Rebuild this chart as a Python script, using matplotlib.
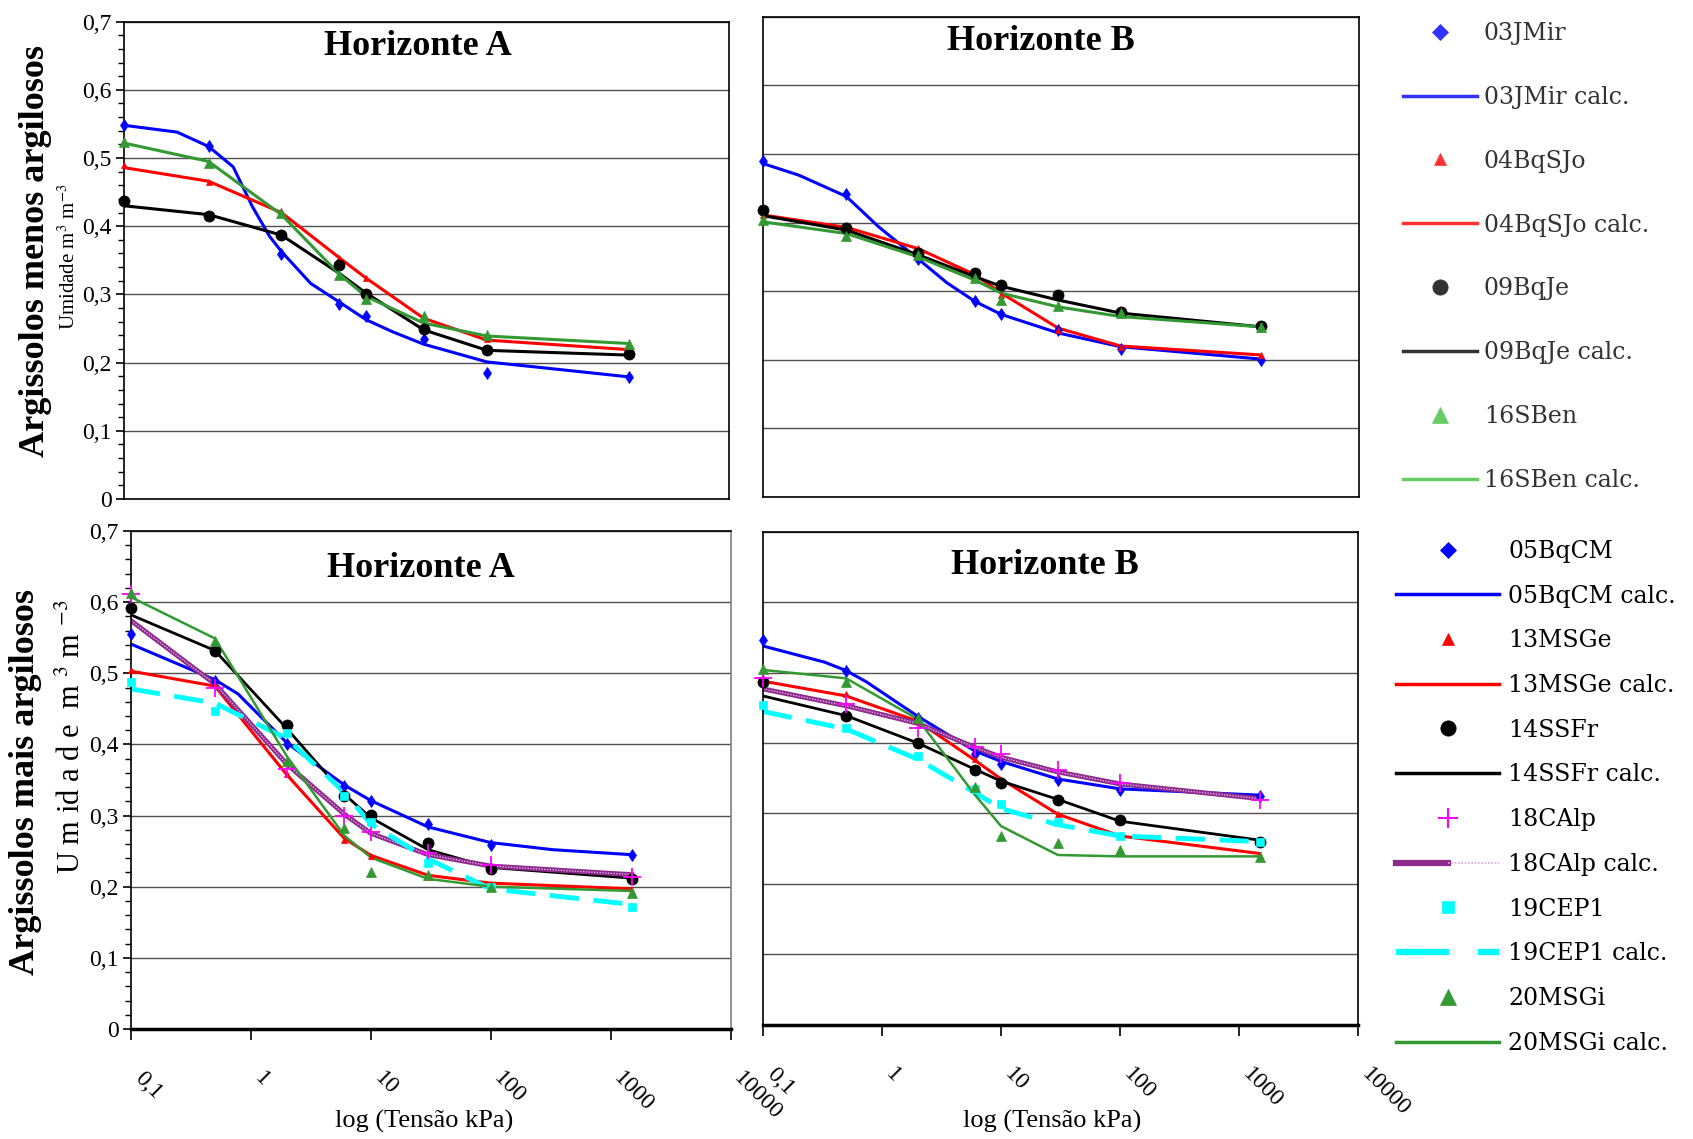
import numpy as np
import matplotlib
matplotlib.use('Agg')
import matplotlib.pyplot as plt
from matplotlib.lines import Line2D
from matplotlib.legend_handler import HandlerTuple
from matplotlib.ticker import MultipleLocator, NullLocator
from matplotlib.transforms import ScaledTranslation

plt.rcParams['font.family'] = ['Liberation Serif', 'DejaVu Serif']
plt.rcParams['mathtext.fontset'] = 'stix'

# tensões medidas (kPa)
tensao = [0.1, 0.5, 2, 6, 10, 30, 100, 1500]

x_ticks = [0.1, 1, 10, 100, 1000, 10000]
x_tick_labels = ['0,1', '1', '10', '100', '1000', '10000']
y_ticks = [0, 0.1, 0.2, 0.3, 0.4, 0.5, 0.6, 0.7]
y_tick_labels = ['0', '0,1', '0,2', '0,3', '0,4', '0,5', '0,6', '0,7']

# ---------------- argissolos menos argilosos ----------------
menos = ['03JMir', '04BqSJo', '09BqJe', '16SBen']

# horizonte A - observado
mA_03JMir = [0.549, 0.517, 0.359, 0.286, 0.268, 0.234, 0.185, 0.179]
mA_04BqSJo = [0.490, 0.465, 0.423, 0.354, 0.324, 0.268, 0.234, 0.219]
mA_09BqJe = [0.437, 0.415, 0.387, 0.343, 0.300, 0.250, 0.219, 0.213]
mA_16SBen = [0.524, 0.492, 0.419, 0.328, 0.293, 0.268, 0.240, 0.227]
# horizonte A - calculado
mA_03JMir_cx = [0.1, 0.275, 0.5, 0.8, 1.15, 1.6, 2, 3.5, 6, 10, 16.7, 30, 100, 240, 1500]
mA_03JMir_c = [0.548, 0.538, 0.517, 0.487, 0.429, 0.385, 0.363, 0.316, 0.289, 0.263, 0.245,
               0.227, 0.201, 0.194, 0.179]
mA_04BqSJo_c = [0.486, 0.466, 0.420, 0.354, 0.324, 0.265, 0.233, 0.219]
mA_09BqJe_c = [0.430, 0.417, 0.387, 0.331, 0.302, 0.248, 0.218, 0.211]
mA_16SBen_c = [0.522, 0.495, 0.417, 0.330, 0.297, 0.258, 0.239, 0.228]

# horizonte B - observado
mB_03JMir = [0.489, 0.442, 0.347, 0.285, 0.267, 0.244, 0.216, 0.200]
mB_04BqSJo = [0.411, 0.394, 0.363, 0.324, 0.295, 0.244, 0.219, 0.207]
mB_09BqJe = [0.418, 0.392, 0.355, 0.326, 0.309, 0.295, 0.270, 0.249]
mB_16SBen = [0.404, 0.380, 0.353, 0.319, 0.287, 0.279, 0.268, 0.248]
# horizonte B - calculado
mB_03JMir_cx = [0.1, 0.2, 0.5, 0.93, 2, 3.5, 6, 10, 30, 100, 1500]
mB_03JMir_c = [0.486, 0.469, 0.438, 0.394, 0.347, 0.312, 0.285, 0.266, 0.239, 0.219, 0.201]
mB_04BqSJo_c = [0.411, 0.393, 0.362, 0.324, 0.297, 0.246, 0.220, 0.207]
mB_09BqJe_c = [0.410, 0.389, 0.353, 0.321, 0.307, 0.287, 0.268, 0.248]
mB_16SBen_c = [0.401, 0.384, 0.350, 0.316, 0.297, 0.277, 0.263, 0.248]

# ---------------- argissolos mais argilosos ----------------
mais = ['05BqCM', '13MSGe', '14SSFr', '18CAlp', '19CEP1', '20MSGi']

# horizonte A - observado
pA_05BqCM = [0.555, 0.489, 0.400, 0.341, 0.321, 0.288, 0.258, 0.244]
pA_13MSGe = [0.504, 0.484, 0.358, 0.266, 0.243, 0.214, 0.204, 0.194]
pA_14SSFr = [0.592, 0.532, 0.427, 0.327, 0.301, 0.262, 0.225, 0.211]
pA_18CAlp = [0.611, 0.480, 0.365, 0.300, 0.277, 0.247, 0.230, 0.214]
pA_19CEP1 = [0.488, 0.447, 0.416, 0.327, 0.291, 0.233, 0.200, 0.172]
pA_20MSGi = [0.613, 0.546, 0.376, 0.283, 0.220, 0.216, 0.200, 0.191]
# horizonte A - calculado
pA_05BqCM_cx = [0.1, 0.5, 0.78, 2, 6, 10, 30, 100, 330, 1500]
pA_05BqCM_c = [0.541, 0.491, 0.471, 0.402, 0.343, 0.321, 0.284, 0.262, 0.252, 0.245]
pA_13MSGe_c = [0.503, 0.482, 0.357, 0.268, 0.244, 0.216, 0.205, 0.197]
pA_14SSFr_c = [0.582, 0.532, 0.422, 0.330, 0.297, 0.252, 0.227, 0.212]
pA_18CAlp_c = [0.574, 0.485, 0.372, 0.302, 0.275, 0.245, 0.229, 0.217]
pA_19CEP1_c = [0.478, 0.458, 0.408, 0.333, 0.288, 0.239, 0.197, 0.175]
pA_20MSGi_c = [0.607, 0.549, 0.383, 0.272, 0.241, 0.211, 0.200, 0.194]

# horizonte B - observado
pB_05BqCM = [0.547, 0.502, 0.436, 0.385, 0.371, 0.348, 0.334, 0.325]
pB_13MSGe = [0.492, 0.470, 0.431, 0.377, 0.347, 0.299, 0.268, 0.241]
pB_14SSFr = [0.487, 0.439, 0.400, 0.362, 0.344, 0.319, 0.291, 0.260]
pB_18CAlp = [0.492, 0.456, 0.422, 0.395, 0.384, 0.362, 0.344, 0.319]
pB_19CEP1 = [0.454, 0.422, 0.381, 0.335, 0.313, 0.288, 0.268, 0.260]
pB_20MSGi = [0.506, 0.487, 0.436, 0.337, 0.268, 0.258, 0.248, 0.238]
# horizonte B - calculado
pB_05BqCM_cx = [0.1, 0.33, 0.5, 0.74, 2, 6, 10, 30, 100, 1500]
pB_05BqCM_c = [0.538, 0.515, 0.503, 0.487, 0.438, 0.389, 0.374, 0.349, 0.335, 0.326]
pB_13MSGe_c = [0.488, 0.467, 0.431, 0.376, 0.349, 0.299, 0.268, 0.243]
pB_14SSFr_c = [0.467, 0.439, 0.400, 0.363, 0.346, 0.320, 0.289, 0.262]
pB_18CAlp_c = [0.477, 0.453, 0.428, 0.394, 0.380, 0.359, 0.342, 0.321]
pB_19CEP1_c = [0.445, 0.420, 0.377, 0.330, 0.307, 0.284, 0.268, 0.260]
pB_20MSGi_c = [0.504, 0.492, 0.434, 0.327, 0.282, 0.241, 0.239, 0.239]

# estilo de cada amostra: cor, marcador, tamanho no gráfico e na legenda, largura, tracejado
estilo = {
    '03JMir': dict(cor='#0000ff', mk='d', ms=6, mk_leg='D', ms_leg=8, lw=2.2, ls='-'),
    '04BqSJo': dict(cor='#ff0000', mk='^', ms=5, mk_leg='^', ms_leg=8, lw=2.2, ls='-'),
    '09BqJe': dict(cor='#000000', mk='o', ms=8, mk_leg='o', ms_leg=11, lw=2.2, ls='-'),
    '16SBen': dict(cor='#339933', mk='^', ms=7, mk_leg='^', ms_leg=11, lw=2.2, ls='-'),
    '05BqCM': dict(cor='#0000ff', mk='d', ms=6, mk_leg='D', ms_leg=8, lw=2.2, ls='-'),
    '13MSGe': dict(cor='#ff0000', mk='^', ms=5, mk_leg='^', ms_leg=8, lw=2.2, ls='-'),
    '14SSFr': dict(cor='#000000', mk='o', ms=8, mk_leg='o', ms_leg=11, lw=2.0, ls='-'),
    '18CAlp': dict(cor='#ff00ff', mk='+', ms=13, mk_leg='+', ms_leg=15, lw=3.5, ls='-'),
    '19CEP1': dict(cor='#00ffff', mk='s', ms=6, mk_leg='s', ms_leg=9, lw=3.5, ls=(0, (6, 3))),
    '20MSGi': dict(cor='#339933', mk='^', ms=7, mk_leg='^', ms_leg=11, lw=1.8, ls='-'),
}
# cores mais claras usadas na legenda do primeiro grupo
cor_leg_menos = {'03JMir': '#3333ff', '04BqSJo': '#ff3333', '09BqJe': '#333333', '16SBen': '#66cc66'}

fig = plt.figure(figsize=(16.93, 11.39), dpi=100)

ax_mA = fig.add_axes([0.0732, 0.5619, 0.3574, 0.4191])
ax_mB = fig.add_axes([0.4507, 0.5637, 0.3520, 0.4216])
ax_pA = fig.add_axes([0.0774, 0.0966, 0.3541, 0.4372])
ax_pB = fig.add_axes([0.4507, 0.1005, 0.3514, 0.4324])


def desenha(ax, nomes, obs, calc, calc_x):
    for nome in nomes:
        st = estilo[nome]
        cx = calc_x.get(nome, tensao)
        if nome == '18CAlp':
            # linha calculada hachurada (roxo com pontilhado claro)
            ax.plot(cx, calc[nome], color='#8e2a8e', lw=st['lw'], zorder=2)
            ax.plot(cx, calc[nome], color='#d9a6d9', lw=1.0, ls=(0, (1, 1)), zorder=2)
        else:
            ax.plot(cx, calc[nome], color=st['cor'], lw=st['lw'], ls=st['ls'], zorder=2)
        mk_lw = 1.3 if st['mk'] == '+' else 0.5
        ax.plot(tensao, obs[nome], ls='none', marker=st['mk'], ms=st['ms'],
                color=st['cor'], mec=st['cor'], mew=mk_lw, zorder=3, clip_on=False)


def formata(ax, titulo, tx, ty, esquerda, baixo):
    ax.set_xscale('log')
    ax.set_xlim(0.1, 10000)
    ax.set_ylim(0, 0.7)
    ax.xaxis.set_minor_locator(NullLocator())
    ax.set_yticks(y_ticks)
    ax.yaxis.grid(True, color='#505050', lw=1.0)
    ax.set_axisbelow(True)
    for s in ax.spines.values():
        s.set_color('black')
        s.set_linewidth(1.2)
    if esquerda:
        ax.set_yticklabels(y_tick_labels, fontsize=17)
        ax.yaxis.set_minor_locator(MultipleLocator(0.02))
        ax.tick_params(axis='y', which='major', direction='out', length=6, width=1.2, pad=3)
        ax.tick_params(axis='y', which='minor', direction='out', length=4, width=1.0)
    else:
        ax.tick_params(axis='y', which='both', left=False, labelleft=False)
    if baixo:
        ax.set_xticks(x_ticks)
        ax.set_xticklabels(x_tick_labels, fontsize=17, rotation=-45, ha='left', va='top',
                           rotation_mode='anchor')
        ax.tick_params(axis='x', direction='out', length=8, width=1.2, pad=20)
        ax.spines['bottom'].set_linewidth(2.5)
        for lab in ax.get_xticklabels():
            lab.set_transform(lab.get_transform() + ScaledTranslation(0.14, 0, fig.dpi_scale_trans))
    else:
        ax.tick_params(axis='x', which='both', bottom=False, labelbottom=False)
    ax.text(tx, ty, titulo, transform=ax.transAxes, ha='center', va='baseline',
            fontsize=26, fontweight='bold')


desenha(ax_mA, menos,
        {'03JMir': mA_03JMir, '04BqSJo': mA_04BqSJo, '09BqJe': mA_09BqJe, '16SBen': mA_16SBen},
        {'03JMir': mA_03JMir_c, '04BqSJo': mA_04BqSJo_c, '09BqJe': mA_09BqJe_c, '16SBen': mA_16SBen_c},
        {'03JMir': mA_03JMir_cx})
desenha(ax_mB, menos,
        {'03JMir': mB_03JMir, '04BqSJo': mB_04BqSJo, '09BqJe': mB_09BqJe, '16SBen': mB_16SBen},
        {'03JMir': mB_03JMir_c, '04BqSJo': mB_04BqSJo_c, '09BqJe': mB_09BqJe_c, '16SBen': mB_16SBen_c},
        {'03JMir': mB_03JMir_cx})
desenha(ax_pA, mais,
        {'05BqCM': pA_05BqCM, '13MSGe': pA_13MSGe, '14SSFr': pA_14SSFr,
         '18CAlp': pA_18CAlp, '19CEP1': pA_19CEP1, '20MSGi': pA_20MSGi},
        {'05BqCM': pA_05BqCM_c, '13MSGe': pA_13MSGe_c, '14SSFr': pA_14SSFr_c,
         '18CAlp': pA_18CAlp_c, '19CEP1': pA_19CEP1_c, '20MSGi': pA_20MSGi_c},
        {'05BqCM': pA_05BqCM_cx})
desenha(ax_pB, mais,
        {'05BqCM': pB_05BqCM, '13MSGe': pB_13MSGe, '14SSFr': pB_14SSFr,
         '18CAlp': pB_18CAlp, '19CEP1': pB_19CEP1, '20MSGi': pB_20MSGi},
        {'05BqCM': pB_05BqCM_c, '13MSGe': pB_13MSGe_c, '14SSFr': pB_14SSFr_c,
         '18CAlp': pB_18CAlp_c, '19CEP1': pB_19CEP1_c, '20MSGi': pB_20MSGi_c},
        {'05BqCM': pB_05BqCM_cx})

formata(ax_mA, 'Horizonte A', 0.485, 0.93, True, False)
formata(ax_mB, 'Horizonte B', 0.466, 0.931, False, False)
formata(ax_pA, 'Horizonte A', 0.484, 0.908, True, True)
formata(ax_pB, 'Horizonte B', 0.474, 0.914, False, True)
ax_pA.spines['right'].set_color('#808080')

# rótulos dos eixos
fig.text(0.0207, 0.78, 'Argissolos menos argilosos', rotation=90, ha='center', va='center',
         fontsize=26, fontweight='bold')
fig.text(0.041, 0.775, r'Umidade m$^{3}$ m$^{-3}$', rotation=90, ha='center', va='center',
         fontsize=15)
fig.text(0.0148, 0.3134, 'Argissolos mais argilosos', rotation=90, ha='center', va='center',
         fontsize=26, fontweight='bold')
fig.text(0.0425, 0.353, r'U m id a d e  m $^{3}$ m $^{-3}$', rotation=90, ha='center',
         va='center', fontsize=22)
for ax, xc in [(ax_pA, 0.489), (ax_pB, 0.486)]:
    pos = ax.get_position()
    fig.text(pos.x0 + xc * pos.width, 0.0097, 'log (Tensão kPa)', ha='center', va='baseline',
             fontsize=19)


def itens_legenda(nomes, cores):
    handles, labels = [], []
    for nome in nomes:
        st = estilo[nome]
        c = cores.get(nome, st['cor'])
        mew = 1.5 if st['mk_leg'] == '+' else 0.5
        handles.append(Line2D([], [], ls='none', marker=st['mk_leg'], ms=st['ms_leg'],
                              color=c, mec=c, mew=mew))
        if nome == '18CAlp':
            handles.append((Line2D([], [], color='#8e2a8e', lw=4.5),
                            Line2D([], [], color='#d9a6d9', lw=1.2, ls=(0, (1, 1)))))
        elif nome == '19CEP1':
            handles.append(Line2D([], [], color=c, lw=4.5, ls=(0, (8.5, 4.6))))
        else:
            handles.append(Line2D([], [], color=c, lw=2.5))
        labels += [nome, nome + ' calc.']
    return handles, labels


fonte_leg = {'family': 'DejaVu Serif', 'size': 17}

h1, l1 = itens_legenda(menos, cor_leg_menos)
leg1 = fig.legend(h1, l1, loc='center left', bbox_to_anchor=(0.829, 0.7744),
                  frameon=False, prop=fonte_leg, labelspacing=1.73, handlelength=3.1,
                  handletextpad=0.3, borderpad=0, borderaxespad=0)
for t in leg1.get_texts():
    t.set_color('#333333')

h2, l2 = itens_legenda(mais, {})
fig.legend(h2, l2, loc='center left', bbox_to_anchor=(0.8246, 0.300),
           frameon=False, prop=fonte_leg, labelspacing=0.92, handlelength=4.36,
           handletextpad=0.4, borderpad=0, borderaxespad=0,
           handler_map={tuple: HandlerTuple(ndivide=None, pad=0)})

fig.savefig('out.png', dpi=100)
